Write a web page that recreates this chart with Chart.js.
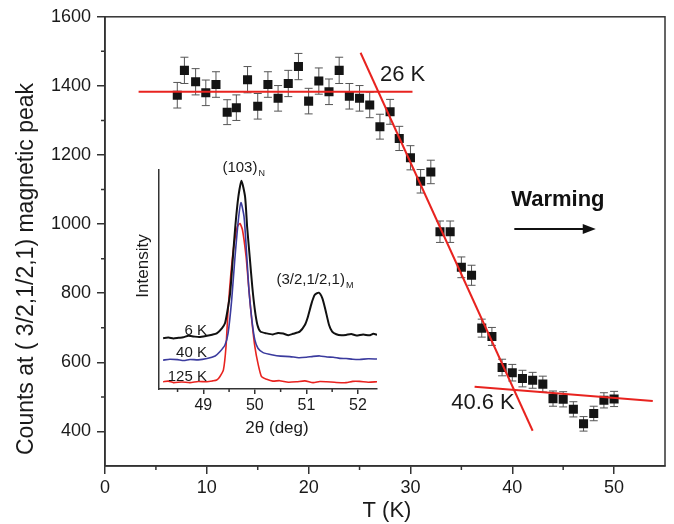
<!DOCTYPE html>
<html>
<head>
<meta charset="utf-8">
<script src="https://cdn.jsdelivr.net/npm/chart.js@4.4.1/dist/chart.umd.min.js"></script>
<style>
  html, body { margin: 0; padding: 0; background: #fff; }
  #wrap { position: relative; width: 674px; height: 524px; }
  #mainChart { position: absolute; left: 0; top: 0; }
  #insetChart { position: absolute; left: 120px; top: 150px; }
</style>
</head>
<body>
<div id="wrap">
  <canvas id="mainChart" width="674" height="524"></canvas>
  <canvas id="insetChart" width="280" height="300"></canvas>
</div>
<script>
const FONT = "'Liberation Sans', Arial, sans-serif";

// main panel: counts vs temperature
const temperatures = [7.1, 7.8, 8.9, 9.9, 10.9, 12, 12.9, 14, 15, 16, 17, 18, 19, 20, 21, 22, 23, 24, 25, 26, 27, 28, 28.9, 30, 31, 32, 32.9, 33.9, 35, 36, 37, 38, 39, 40, 41, 42, 43, 44, 45, 46, 47, 48, 49, 50];
const counts = [1373, 1445, 1412, 1380, 1404, 1324, 1337, 1418, 1341, 1404, 1364, 1407, 1456, 1356, 1414, 1383, 1445, 1370, 1364, 1345, 1282, 1325, 1248, 1192, 1124, 1151, 978, 978, 875, 852, 699, 675, 585, 570, 553, 548, 537, 495, 493, 464, 422, 452, 490, 494];
const countErrors = [37, 38, 38, 37, 37, 36, 37, 38, 37, 37, 37, 38, 38, 37, 38, 37, 38, 37, 37, 37, 36, 36, 35, 35, 34, 34, 31, 31, 30, 29, 26, 26, 24, 24, 24, 23, 23, 22, 22, 22, 21, 21, 22, 22];

const fitLowT = [3.3, 30.2];
const fitLowCounts = [1383, 1383];
const fitDropT = [25.1, 42.0];
const fitDropCounts = [1496, 402];
const fitHighT = [36.3, 53.8];
const fitHighCounts = [529, 488];

const xMinorTicks = [5, 15, 25, 35, 45];
const yMinorTicks = [500, 700, 900, 1100, 1300, 1500];

// inset: diffraction scans
const twoTheta6K = [48.22, 48.32, 48.42, 48.52, 48.61, 48.71, 48.81, 48.92, 49.07, 49.17, 49.26, 49.36, 49.42, 49.46, 49.52, 49.57, 49.62, 49.68, 49.74, 49.81, 49.85, 49.90, 49.95, 50.00, 50.05, 50.11, 50.23, 50.35, 50.45, 50.55, 50.65, 50.74, 50.87, 50.97, 51.03, 51.10, 51.16, 51.24, 51.31, 51.37, 51.44, 51.50, 51.58, 51.68, 51.77, 51.87, 51.97, 52.10, 52.22, 52.30, 52.37];
const intensity6K = [23.2, 23.5, 23.1, 23.4, 23.6, 24.3, 24.0, 23.7, 24.3, 24.8, 25.4, 27.7, 30.0, 34.6, 43.7, 58.9, 74.1, 87.8, 95.1, 87.8, 74.1, 60.4, 46.7, 36.1, 29.2, 26.2, 25.4, 24.9, 25.6, 25.3, 24.6, 25.2, 26.2, 29.2, 33.0, 39.1, 42.9, 44.0, 41.4, 36.1, 29.2, 26.2, 25.0, 24.5, 24.7, 25.1, 24.4, 24.9, 24.5, 25.2, 24.8];
const twoTheta40K = [48.22, 48.35, 48.50, 48.62, 48.74, 48.90, 49.07, 49.23, 49.32, 49.42, 49.48, 49.55, 49.61, 49.68, 49.73, 49.79, 49.84, 49.89, 49.95, 50.00, 50.06, 50.16, 50.35, 50.50, 50.68, 50.85, 51.00, 51.13, 51.26, 51.40, 51.52, 51.65, 51.77, 51.90, 52.03, 52.20, 52.37];
const intensity40K = [13.2, 13.6, 13.4, 13.0, 13.5, 13.3, 13.9, 15.1, 17.0, 20.1, 25.4, 40.6, 58.9, 77.2, 85.1, 78.7, 61.9, 43.7, 30.0, 22.4, 18.6, 16.6, 15.5, 15.0, 14.8, 14.3, 14.5, 14.9, 15.1, 14.6, 14.5, 14.0, 13.9, 13.6, 13.5, 13.8, 13.7];
const twoTheta125K = [48.22, 48.32, 48.42, 48.58, 48.74, 48.90, 49.07, 49.18, 49.26, 49.32, 49.39, 49.44, 49.48, 49.53, 49.59, 49.66, 49.71, 49.76, 49.83, 49.88, 49.94, 50.00, 50.06, 50.13, 50.23, 50.35, 50.48, 50.65, 50.81, 50.97, 51.13, 51.26, 51.39, 51.58, 51.77, 51.90, 52.03, 52.20, 52.37];
const intensity125K = [3.3, 3.6, 2.9, 3.2, 2.9, 3.4, 3.3, 3.7, 4.1, 5.6, 8.7, 19.3, 36.1, 51.3, 65.0, 74.1, 75.6, 72.6, 60.4, 46.7, 31.5, 19.3, 11.7, 5.6, 4.4, 3.6, 3.8, 3.1, 3.3, 3.7, 2.9, 3.4, 3.3, 3.0, 2.9, 3.5, 3.5, 3.1, 3.3];
const insetMinorTicks = [48.5, 49.5, 50.5, 51.5];

const AXIS_COLOR = "#333";
const RED = "#e8231f";

function toPoints(xs, ys) {
  return xs.map((x, i) => ({ x, y: ys[i] }));
}

function drawMinorTicks(chart, xValues, yValues, length) {
  const { ctx, chartArea, scales } = chart;
  ctx.save();
  ctx.strokeStyle = AXIS_COLOR;
  ctx.lineWidth = 1.5;
  ctx.beginPath();
  xValues.forEach((v) => {
    const px = scales.x.getPixelForValue(v);
    ctx.moveTo(px, chartArea.bottom);
    ctx.lineTo(px, chartArea.bottom + length);
  });
  yValues.forEach((v) => {
    const py = scales.y.getPixelForValue(v);
    ctx.moveTo(chartArea.left, py);
    ctx.lineTo(chartArea.left - length, py);
  });
  ctx.stroke();
  ctx.restore();
}

function drawText(ctx, text, x, y, font, align, color) {
  ctx.save();
  ctx.font = font;
  ctx.fillStyle = color || "#1a1a1a";
  ctx.textAlign = align || "left";
  ctx.textBaseline = "middle";
  ctx.fillText(text, x, y);
  ctx.restore();
}

function drawSubscripted(ctx, main, sub, x, y, size) {
  ctx.save();
  ctx.font = `${size}px ${FONT}`;
  ctx.fillStyle = "#1a1a1a";
  ctx.textBaseline = "middle";
  ctx.fillText(main, x, y);
  const w = ctx.measureText(main).width;
  ctx.font = `${Math.round(size * 0.6)}px ${FONT}`;
  ctx.fillText(sub, x + w + 1, y + size * 0.35);
  ctx.restore();
}

const errorBarPlugin = {
  id: "errorBars",
  beforeDatasetsDraw(chart) {
    const { ctx, scales } = chart;
    ctx.save();
    ctx.strokeStyle = "#555";
    ctx.lineWidth = 1;
    ctx.beginPath();
    temperatures.forEach((t, i) => {
      const x = scales.x.getPixelForValue(t);
      const top = scales.y.getPixelForValue(counts[i] + countErrors[i]);
      const bottom = scales.y.getPixelForValue(counts[i] - countErrors[i]);
      ctx.moveTo(x, top);
      ctx.lineTo(x, bottom);
      ctx.moveTo(x - 4, top);
      ctx.lineTo(x + 4, top);
      ctx.moveTo(x - 4, bottom);
      ctx.lineTo(x + 4, bottom);
    });
    ctx.stroke();
    ctx.restore();
  },
};

const mainDecorPlugin = {
  id: "mainDecor",
  afterDraw(chart) {
    const { ctx, chartArea, scales } = chart;
    const { left, top, right, bottom } = chartArea;

    ctx.save();
    ctx.strokeStyle = AXIS_COLOR;
    ctx.lineWidth = 1.5;
    ctx.strokeRect(left, top, right - left, bottom - top);
    ctx.restore();
    drawMinorTicks(chart, xMinorTicks, yMinorTicks, 4);

    // axis titles
    drawText(ctx, "T (K)", (left + right) / 2 + 2, 511, `22px ${FONT}`, "center");
    ctx.save();
    ctx.translate(27, 269);
    ctx.rotate(-Math.PI / 2);
    drawText(ctx, "Counts at ( 3/2,1/2,1) magnetic peak", 0, 0, `23px ${FONT}`, "center");
    ctx.restore();

    // annotations
    const xs = scales.x;
    const ys = scales.y;
    drawText(ctx, "26 K", xs.getPixelForValue(27.0), ys.getPixelForValue(1432), `22px ${FONT}`);
    drawText(ctx, "40.6 K", xs.getPixelForValue(34.0), ys.getPixelForValue(483), `22px ${FONT}`);
    drawText(ctx, "Warming", xs.getPixelForValue(39.9), ys.getPixelForValue(1070), `bold 22px ${FONT}`, "left", "#111");

    const ax0 = xs.getPixelForValue(40.2);
    const ax1 = xs.getPixelForValue(48.2);
    const ay = ys.getPixelForValue(986);
    ctx.save();
    ctx.strokeStyle = "#111";
    ctx.fillStyle = "#111";
    ctx.lineWidth = 2;
    ctx.beginPath();
    ctx.moveTo(ax0, ay);
    ctx.lineTo(ax1 - 10, ay);
    ctx.stroke();
    ctx.beginPath();
    ctx.moveTo(ax1, ay);
    ctx.lineTo(ax1 - 13, ay - 5);
    ctx.lineTo(ax1 - 13, ay + 5);
    ctx.closePath();
    ctx.fill();
    ctx.restore();
  },
};

const insetDecorPlugin = {
  id: "insetDecor",
  afterDraw(chart) {
    const { ctx, chartArea, scales } = chart;
    const xs = scales.x;
    const ys = scales.y;
    ctx.save();
    ctx.strokeStyle = AXIS_COLOR;
    ctx.lineWidth = 1.5;
    ctx.beginPath();
    insetMinorTicks.forEach((v) => {
      const px = xs.getPixelForValue(v);
      ctx.moveTo(px, chartArea.bottom);
      ctx.lineTo(px, chartArea.bottom + 3);
    });
    ctx.stroke();
    ctx.restore();

    drawText(ctx, "2\u03b8 (deg)", xs.getPixelForValue(50.43), 278, `17px ${FONT}`, "center");
    ctx.save();
    ctx.translate(23, 116);
    ctx.rotate(-Math.PI / 2);
    drawText(ctx, "Intensity", 0, 0, `17px ${FONT}`, "center");
    ctx.restore();

    drawText(ctx, "6 K", xs.getPixelForValue(49.07), ys.getPixelForValue(26.6), `15px ${FONT}`, "right");
    drawText(ctx, "40 K", xs.getPixelForValue(49.07), ys.getPixelForValue(16.3), `15px ${FONT}`, "right");
    drawText(ctx, "125 K", xs.getPixelForValue(49.07), ys.getPixelForValue(5.6), `15px ${FONT}`, "right");
    drawSubscripted(ctx, "(103)", "N", xs.getPixelForValue(49.37), ys.getPixelForValue(100.9), 15);
    drawSubscripted(ctx, "(3/2,1/2,1)", "M", xs.getPixelForValue(50.42), ys.getPixelForValue(49.8), 15);
  },
};

function lineDataset(xs, ys, color, width) {
  return {
    type: "line",
    data: toPoints(xs, ys),
    borderColor: color,
    borderWidth: width,
    pointRadius: 0,
    fill: false,
    tension: 0,
    order: 1,
  };
}

new Chart(document.getElementById("mainChart"), {
  type: "scatter",
  data: {
    datasets: [
      {
        data: toPoints(temperatures, counts),
        pointStyle: "rect",
        pointRadius: 6.4,
        backgroundColor: "#141414",
        borderWidth: 0,
        order: 2,
      },
      lineDataset(fitLowT, fitLowCounts, RED, 2),
      lineDataset(fitDropT, fitDropCounts, RED, 2),
      lineDataset(fitHighT, fitHighCounts, RED, 2),
    ],
  },
  options: {
    responsive: false,
    animation: false,
    layout: { padding: { left: 0, right: 9, top: 15, bottom: 0 } },
    plugins: {
      legend: { display: false },
      tooltip: { enabled: false },
    },
    scales: {
      x: {
        type: "linear",
        min: 0,
        max: 55,
        afterFit: (scale) => { scale.height = 58; },
        ticks: {
          stepSize: 10,
          includeBounds: false,
          color: "#1a1a1a",
          font: { family: FONT, size: 18 },
          padding: 3,
          maxRotation: 0,
          callback: (value) => String(value),
        },
        grid: { drawOnChartArea: false, color: AXIS_COLOR, lineWidth: 1.5, tickLength: 8 },
        border: { color: AXIS_COLOR, width: 1.5 },
      },
      y: {
        type: "linear",
        min: 300,
        max: 1600,
        afterFit: (scale) => { scale.width = 105; },
        ticks: {
          stepSize: 200,
          includeBounds: false,
          color: "#1a1a1a",
          font: { family: FONT, size: 18 },
          padding: 6,
          callback: (value) => String(value),
        },
        grid: { drawOnChartArea: false, color: AXIS_COLOR, lineWidth: 1.5, tickLength: 8 },
        border: { color: AXIS_COLOR, width: 1.5 },
      },
    },
  },
  plugins: [errorBarPlugin, mainDecorPlugin],
});

new Chart(document.getElementById("insetChart"), {
  type: "line",
  data: {
    datasets: [
      lineDataset(twoTheta6K, intensity6K, "#111", 2),
      lineDataset(twoTheta40K, intensity40K, "#3b3b9e", 1.6),
      lineDataset(twoTheta125K, intensity125K, "#e8231f", 1.6),
    ].map((ds) => ({ ...ds, tension: 0.2 })),
  },
  options: {
    responsive: false,
    animation: false,
    layout: { padding: { left: 0, right: 23, top: 20, bottom: 0 } },
    plugins: {
      legend: { display: false },
      tooltip: { enabled: false },
    },
    scales: {
      x: {
        type: "linear",
        min: 48.14,
        max: 52.37,
        afterFit: (scale) => { scale.height = 61; },
        ticks: {
          stepSize: 1,
          includeBounds: false,
          color: "#1a1a1a",
          font: { family: FONT, size: 16 },
          padding: 2,
          maxRotation: 0,
        },
        grid: { drawOnChartArea: false, color: AXIS_COLOR, lineWidth: 1.5, tickLength: 5 },
        border: { color: AXIS_COLOR, width: 1.5 },
      },
      y: {
        type: "linear",
        min: 0,
        max: 100,
        afterFit: (scale) => { scale.width = 39; },
        ticks: { display: false },
        grid: { display: false },
        border: { color: AXIS_COLOR, width: 1.5 },
      },
    },
  },
  plugins: [insetDecorPlugin],
});
</script>
</body>
</html>
